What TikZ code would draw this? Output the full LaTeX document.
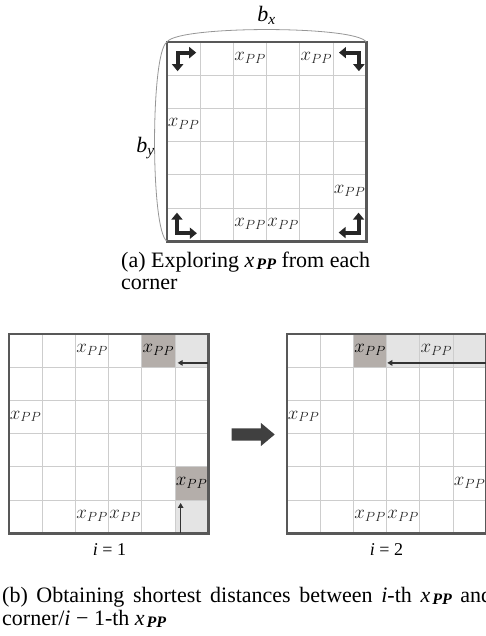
\RequirePackage{fix-cm}
\documentclass[tikz,border=0pt]{standalone}
\usepackage{fontspec}
\setmainfont{Liberation Serif}
\usepackage{tikz}
\usetikzlibrary{arrows.meta, shapes.arrows}
\definecolor{framegray}{RGB}{88,88,88}
\definecolor{linegray}{RGB}{205,205,205}
\definecolor{hitgray}{RGB}{180,174,170}
\definecolor{pathgray}{RGB}{228,228,228}
\definecolor{arrowgray}{RGB}{64,64,64}
\definecolor{bracegray}{RGB}{150,150,150}
\newcommand{\xpp}{$x_{PP}$}
\newcommand{\capxpp}{\textit{x}\kern2pt\raisebox{-2.5pt}{\fontsize{16}{16}\selectfont\bfseries\itshape PP}}

\begin{document}
\begin{tikzpicture}[
  x=1pt, y=-1pt,
  frame/.style={draw=framegray, line width=2.6pt},
  cellline/.style={draw=linegray, line width=0.8pt},
  hitcell/.style={fill=hitgray},
  pathcell/.style={fill=pathgray},
  xpp/.style={inner sep=0pt, text=black!85,
    font=\fontsize{19}{20}\selectfont},
  hitxpp/.style={xpp, text=black},
  cornerarrow/.style={draw=black!85, line width=4pt, line join=miter,
    {Triangle[width=11pt,length=7pt]}-{Triangle[width=11pt,length=7pt]}},
  patharrow/.style={draw=black!80, line width=1.6pt,
    -{Triangle[width=5.5pt,length=5pt]}},
  brace/.style={draw=bracegray, line width=0.8pt},
  bigarrow/.style={single arrow, fill=arrowgray, inner sep=6pt,
    minimum height=43pt, single arrow head extend=5.5pt,
    single arrow tip angle=80},
  captext/.style={inner sep=0pt, font=\fontsize{22}{23}\selectfont},
  ilabel/.style={inner sep=0pt, font=\fontsize{18}{20}\selectfont}
]
\useasboundingbox (0,0) rectangle (486,636);

% (a) corners of the board
\begin{scope}[shift={(167,42)}, x=33.2pt, y=-33.2pt]
  \coordinate (aNW) at (0,0);
  \coordinate (aNE) at (6,0);
  \coordinate (aSW) at (0,6);
  \foreach \k in {1,...,5} {
    \draw[cellline] (\k,0) -- (\k,6);
    \draw[cellline] (0,\k) -- (6,\k);
  }
  \draw[frame] (aNW) rectangle (6,6);
  \node[xpp] (a1) at (2.5,0.48) {\xpp};
  \node[xpp] (a2) at (4.5,0.48) {\xpp};
  \node[xpp] (a3) at (0.5,2.48) {\xpp};
  \node[xpp] (a4) at (5.5,4.48) {\xpp};
  \node[xpp] (a5) at (2.5,5.48) {\xpp};
  \node[xpp] (a6) at (3.5,5.48) {\xpp};
  % exploring directions
  \draw[cornerarrow] (0.32,0.88) -- (0.32,0.32) -- (0.88,0.32);
  \draw[cornerarrow] (5.18,0.32) -- (5.78,0.32) -- (5.78,0.88);
  \draw[cornerarrow] (0.3,5.14) -- (0.3,5.76) -- (0.9,5.76);
  \draw[cornerarrow] (5.77,5.14) -- (5.77,5.74) -- (5.17,5.74);
  % b_x and b_y
  \draw[brace] (aNW) .. controls (0.3,-0.5) and (5.7,-0.5) .. (aNE);
  \draw[brace] (aNW) .. controls (-0.5,0.3) and (-0.5,5.7) .. (aSW);
  \node[captext] (bx) at (3,-0.8) {\textit{b}\textsubscript{\textit{x}}};
  \node[captext] (by) at (-0.65,3.2) {\textit{b}\textsubscript{\textit{y}}};
\end{scope}

\node[captext, anchor=base west] (capa1) at (121,267)
  {\makebox[249pt][s]{(a) Exploring \capxpp{} from each}};
\node[captext, anchor=base west] (capa2) at (121,289.5) {corner};

% (b) step i = 1
\begin{scope}[shift={(9,334)}, x=33.2pt, y=-33.2pt]
  \fill[hitcell] (4,0) rectangle (5,1);
  \fill[hitcell] (5,4) rectangle (6,5);
  \fill[pathcell] (5,0) rectangle (6,1);
  \fill[pathcell] (5,5) rectangle (6,6);
  \foreach \k in {1,...,5} {
    \draw[cellline] (\k,0) -- (\k,6);
    \draw[cellline] (0,\k) -- (6,\k);
  }
  \draw[frame] (0,0) rectangle (6,6);
  \node[xpp] (l1) at (2.5,0.48) {\xpp};
  \node[hitxpp] (l2) at (4.5,0.48) {\xpp};
  \node[xpp] (l3) at (0.5,2.48) {\xpp};
  \node[hitxpp] (l4) at (5.5,4.48) {\xpp};
  \node[xpp] (l5) at (2.5,5.48) {\xpp};
  \node[xpp] (l6) at (3.5,5.48) {\xpp};
  \coordinate (lE) at (6,0.87);
  \coordinate (lS) at (5.17,6);
  \draw[patharrow] (lE) -- (5.08,0.87);
  \draw[patharrow] (lS) -- (5.17,5.09);
\end{scope}
\node[ilabel, anchor=base] (i1) at (109.5,555) {\textit{i} = 1};

\node[bigarrow] (next) at (249.5,434.5) {};

% (b) step i = 2
\begin{scope}[shift={(287,334)}, x=33.2pt, y=-33.2pt]
  \fill[hitcell] (2,0) rectangle (3,1);
  \fill[pathcell] (3,0) rectangle (6,1);
  \foreach \k in {1,...,5} {
    \draw[cellline] (\k,0) -- (\k,6);
    \draw[cellline] (0,\k) -- (6,\k);
  }
  \draw[frame] (0,0) rectangle (6,6);
  \node[hitxpp] (r1) at (2.5,0.48) {\xpp};
  \node[xpp] (r2) at (4.5,0.48) {\xpp};
  \node[xpp] (r3) at (0.5,2.48) {\xpp};
  \node[xpp] (r4) at (5.5,4.48) {\xpp};
  \node[xpp] (r5) at (2.5,5.48) {\xpp};
  \node[xpp] (r6) at (3.5,5.48) {\xpp};
  \coordinate (rE) at (6,0.87);
  \draw[patharrow] (rE) -- (3.02,0.87);
\end{scope}
\node[ilabel, anchor=base] (i2) at (386.5,555) {\textit{i} = 2};

\node[captext, anchor=base west] (capb1) at (2,602)
  {\makebox[490pt][s]{(b) Obtaining shortest distances between \textit{i}-th \capxpp{} and}};
\node[captext, anchor=base west] (capb2) at (2,625)
  {corner/\textit{i} − 1-th \capxpp};
\end{tikzpicture}
\end{document}
